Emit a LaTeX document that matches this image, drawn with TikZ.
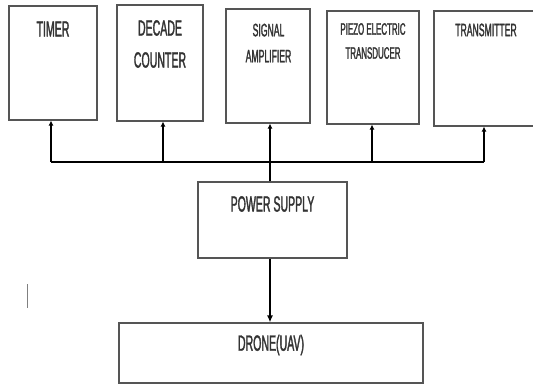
\documentclass[tikz,border=0pt]{standalone}
\usepackage{fontspec}
\newfontfamily\condfont[FakeStretch=0.48,FakeBold=1.5]{Liberation Sans}
\usetikzlibrary{arrows.meta}
\definecolor{boxline}{HTML}{555555}
\definecolor{txt}{HTML}{333333}
\tikzset{
  blk/.style={draw=boxline, line width=1.2pt, rectangle, inner sep=0pt, fill=none},
  lbl/.style={text=txt, align=center, inner sep=0pt, font=\condfont\fontsize{22}{32}\selectfont},
  lblm/.style={lbl, font=\condfont\fontsize{18}{26}\selectfont},
  lbls/.style={lbl, font=\condfont\fontsize{16.5}{24}\selectfont},
  bus/.style={line width=2.4pt, black},
  uparr/.style={line width=2.4pt, black, -{Latex[length=5pt,width=5pt]}},
  downarr/.style={line width=2pt, black, -{Latex[length=7pt,width=6pt]}}
}
\begin{document}
\begin{tikzpicture}[x=1pt,y=-1pt]
\useasboundingbox (0,0) rectangle (533,385);
\clip (0,0) rectangle (533,385);
% boxes
\node[blk, minimum width=88pt, minimum height=114pt] (timer) at (53,63) {};
\node[blk, minimum width=86pt, minimum height=116pt] (decade) at (160,63) {};
\node[blk, minimum width=84pt, minimum height=114pt] (signal) at (268,66) {};
\node[blk, minimum width=92pt, minimum height=113pt] (piezo) at (373,67.5) {};
\node[blk, minimum width=106pt, minimum height=115pt] (trans) at (487,68.5) {};
\node[blk, minimum width=149pt, minimum height=76pt] (power) at (272.5,220) {};
\node[blk, minimum width=304pt, minimum height=60pt] (drone) at (271,353) {};
% labels
\node[lbl] (ttimer) at (53,29) {TIMER};
\node[lbl] (tdecade) at (160,44) {DECADE\\COUNTER};
\node[lblm] (tsignal) at (268.5,43) {SIGNAL\\AMPLIFIER};
\node[lbls] (tpiezo) at (373,41) {PIEZO ELECTRIC\\TRANSDUCER};
\node[lblm] (ttrans) at (486,30) {TRANSMITTER};
\node[lbl] (tpower) at (272.5,204) {POWER SUPPLY};
\node[lbl] (tdrone) at (271,345) {DRONE(UAV)};
% bus
\coordinate (b1) at (51,162);
\coordinate (b2) at (163,162);
\coordinate (b3) at (270,162);
\coordinate (b4) at (372,162);
\coordinate (b5) at (484,162);
\draw[bus] (b1) -- (b5);
\draw[uparr] (b1) -- (b1 |- timer.south);
\draw[uparr] (b2) -- (b2 |- decade.south);
\draw[uparr] (b3 |- power.north) -- (b3 |- signal.south);
\draw[uparr] (b4) -- (b4 |- piezo.south);
\draw[uparr] (b5) -- (b5 |- trans.south);
\draw[downarr] (b3 |- power.south) -- (b3 |- drone.north);
% stray cursor mark
\coordinate (c1) at (27,284);
\coordinate (c2) at (27,308);
\draw[gray, line width=1pt] (c1) -- (c2);
\end{tikzpicture}
\end{document}
